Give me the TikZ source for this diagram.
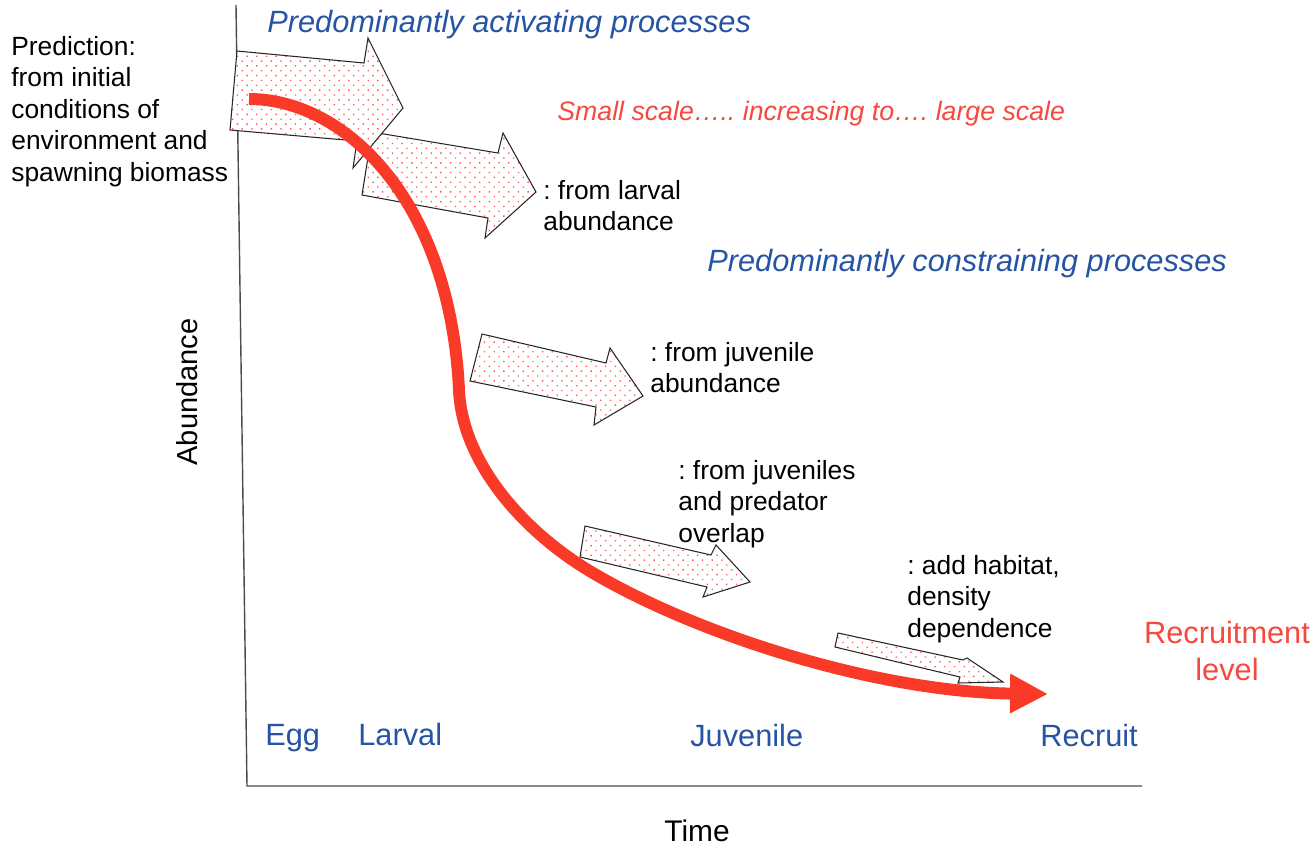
\documentclass[tikz,border=0pt]{standalone}
\usepackage{fontspec}
\setmainfont{Liberation Sans}
\usetikzlibrary{arrows.meta,patterns.meta}
\definecolor{procblue}{RGB}{38,84,164}
\definecolor{curvered}{RGB}{250,58,40}
\definecolor{scalered}{RGB}{246,72,62}

\begin{document}
\frenchspacing
\begin{tikzpicture}[x=0.02cm,y=-0.02cm,
    blockarrow/.style={draw=black!85, line width=0.6pt, line join=miter,
        preaction={fill=white},
        pattern={Dots[distance=3.9pt,angle=45,radius=0.55pt]}, pattern color=red!65},
    txt/.style={font=\fontsize{15}{17.9}\selectfont, align=left, inner sep=0pt, anchor=north west},
    stage/.style={font=\fontsize{17.5}{21}\selectfont, text=procblue, inner sep=0pt, anchor=base west},
    head/.style={font=\fontsize{17.5}{21}\selectfont\itshape, text=procblue, inner sep=0pt, anchor=base west}]
        \useasboundingbox (0,0) rectangle (1314,846);

        %% Axes
        \draw[black!70, line width=0.8pt] (236,5) -- (247,786) -- (1142,786);

        %% Block arrows
        \draw[blockarrow] (372,132) -- (498,153) -- (503,133) -- (536,192) -- (485,238) -- (488,218) -- (362,195) -- cycle;
        \draw[blockarrow] (237,51) -- (364,63) -- (368,38) -- (403,108) -- (353,168) -- (357,141) -- (230,130) -- cycle;
        \draw[blockarrow] (482,334) -- (606,363) -- (610,348) -- (643,396) -- (594,425) -- (596,407) -- (470,381) -- cycle;
        \draw[blockarrow] (585,526) -- (711,555) -- (716,545) -- (750,582) -- (703,597) -- (707,587) -- (580,557) -- cycle;
        \draw[blockarrow] (838,633) -- (963,660) -- (967,658) -- (1003,682) -- (958,683) -- (960,677) -- (835,647) -- cycle;

        %% Abundance curve
        \draw[curvered, line width=6.8pt, -{Triangle[length=0.76cm,width=0.74cm]}]
            (249,99) .. controls (345,99) and (450,200) .. (459,390)
            .. controls (462,460) and (520,530) .. (593,573)
            .. controls (702,637) and (880,692) .. (1048,694);

        %% Headings
        \node[head] (act) at (267,32) {Predominantly activating processes};
        \node[head] (con) at (707,271) {Predominantly constraining processes};
        \node[font=\fontsize{15.2}{18}\selectfont\itshape, text=scalered, inner sep=0pt, anchor=base west] (scale) at (557,120) {Small scale….. increasing to…. large scale};

        %% Annotations
        \node[txt] (pred) at (11,36) {Prediction:\\from initial\\conditions of\\environment and\\spawning biomass};
        \node[txt] (larv) at (543,180) {: from larval\\abundance};
        \node[txt] (juvab) at (650,342) {: from juvenile\\abundance};
        \node[txt] (overlap) at (678,460) {: from juveniles\\and predator\\overlap};
        \node[txt] (habit) at (907,555) {: add habitat,\\density\\dependence};
        \node[font=\fontsize{17.5}{21}\selectfont, text=scalered, align=center, inner sep=0pt, anchor=north] (level) at (1227,621) {Recruitment\\level};

        %% Stages and axis labels
        \node[stage] (egg) at (265,745) {Egg};
        \node[stage] (larval) at (358,745) {Larval};
        \node[stage] (juv) at (690,746) {Juvenile};
        \node[stage] (recruit) at (1040,746) {Recruit};
        \node[font=\fontsize{17}{20}\selectfont, inner sep=0pt, anchor=base] (time) at (697,841) {Time};
        \node[font=\fontsize{16.5}{20}\selectfont, inner sep=0pt, rotate=90, anchor=base] (abund) at (197,392) {Abundance};
\end{tikzpicture}
\end{document}
